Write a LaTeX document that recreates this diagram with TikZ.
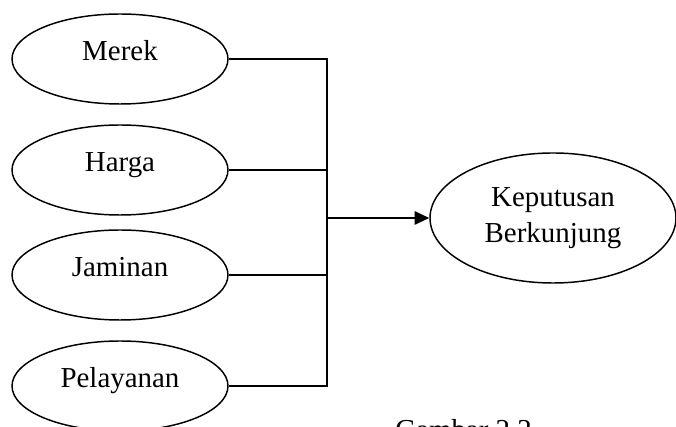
\documentclass[tikz,border=0pt]{standalone}
\usepackage{fontspec}
\setmainfont{Liberation Serif}
\usetikzlibrary{shapes.geometric,arrows.meta}
\begin{document}
\begin{tikzpicture}[x=0.75pt,y=-0.75pt,
  txt/.style={font=\fontsize{21.7}{27}\selectfont},
  oval/.style={ellipse,draw,line width=1.1pt,inner sep=0pt,
    minimum width=162pt,minimum height=67.5pt,txt,
    text height=0.55em,text depth=0.33em},
  bigoval/.style={ellipse,draw,line width=1.1pt,inner sep=0pt,
    minimum width=184.5pt,minimum height=97.5pt,txt,align=center},
  wire/.style={line width=1.4pt},
  arrowtip/.style={-{Triangle[length=11pt,width=10pt]}}]
\useasboundingbox (0,0) rectangle (676,427);
\node[oval] (merek) at (120,59) {Merek};
\node[oval] (harga) at (120,170) {Harga};
\node[oval] (jaminan) at (120,275) {Jaminan};
\node[oval] (pelayanan) at (120,386) {Pelayanan};
\node[bigoval] (kep) at (553,218) {Keputusan\\Berkunjung};
\coordinate (j) at (327,218);
\draw[wire] (merek.east) -- (merek.east -| j) -- (pelayanan.east -| j) -- (pelayanan.east);
\draw[wire] (harga.east) -- (harga.east -| j);
\draw[wire] (jaminan.east) -- (jaminan.east -| j);
\draw[wire,arrowtip] (j) -- (kep.west);
\node[txt,anchor=base west,inner sep=0pt] (cap) at (395,440) {Gambar 2.2};
\end{tikzpicture}
\end{document}
